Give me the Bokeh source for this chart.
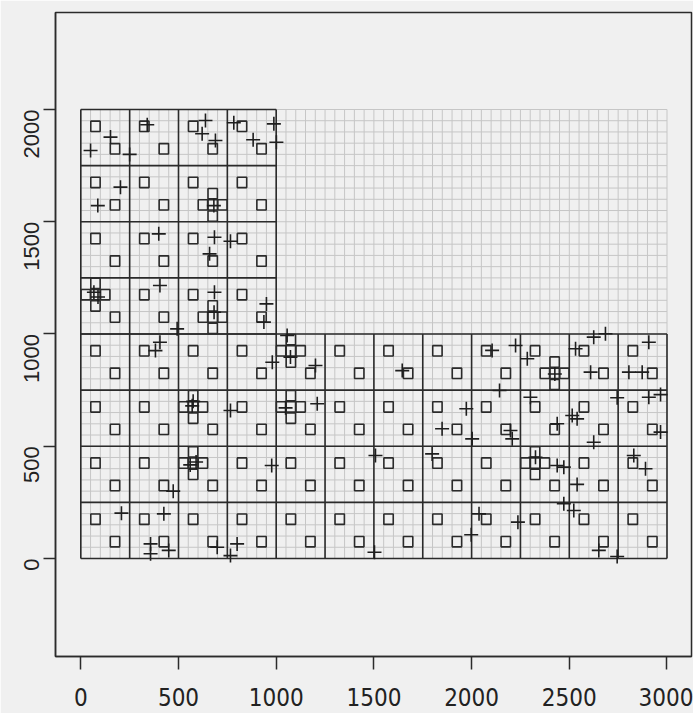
import math
import numpy as np
from bokeh.plotting import figure
from bokeh.models import Range1d, FixedTicker
from bokeh.embed import file_html
from bokeh.resources import INLINE

# ---- design of the study region ----
block_x0 = [0, 0]
block_x1 = [3000, 1000]
block_y0 = [0, 1000]
block_y1 = [1000, 2000]
cell_size = 250
unit_size = 50
region_w = 3000
region_h = 2000
sample_off_x = [75, 175]
sample_off_y = [175, 75]

# units whose neighbourhood was added (adaptive cluster)
expanded_x = [75, 675, 675, 575, 575, 1075, 1075, 2425, 2325]
expanded_y = [1175, 1575, 1075, 675, 425, 925, 675, 825, 425]

# ---- observed points ----
pts_x = [152, 50, 250, 340, 638, 621, 689, 783, 882, 988, 1001, 203, 87, 681,
         399, 684, 766, 659, 67, 88, 405, 684, 682, 950, 937, 493, 1056,
         405, 382, 980, 575, 570, 766, 560, 590, 977, 473, 208, 425, 357, 357,
         450, 698, 800, 766,
         1073, 1201, 1645, 1048, 1210, 1973, 1849, 2003, 1508, 1798, 2038,
         1998, 1503,
         2105, 2225, 2285, 2426, 2532, 2625, 2685, 2609, 2907, 2805, 2873,
         2143, 2301, 2199, 2208, 2438, 2515, 2540, 2625, 2745, 2907, 2967,
         2967, 2327, 2438, 2472, 2540, 2830, 2890, 2472, 2523, 2237, 2651, 2745]
pts_y = [1877, 1817, 1800, 1932, 1951, 1892, 1862, 1941, 1865, 1936, 1854, 1654,
         1572, 1572, 1446, 1431, 1413, 1357, 1186, 1165, 1216, 1186, 1097, 1134,
         1053, 1023, 993,
         963, 926, 874, 700, 680, 659, 417, 430, 414, 300, 202, 199, 65, 21,
         36, 50, 65, 13,
         897, 860, 837, 671, 689, 667, 578, 533, 459, 466, 199, 106, 28,
         927, 949, 890, 822, 934, 986, 1001, 830, 963, 830, 830,
         748, 718, 570, 533, 600, 637, 622, 518, 716, 718, 730,
         563, 451, 414, 407, 330, 459, 400, 244, 214, 162, 36, 9]

x_ticks = [0, 500, 1000, 1500, 2000, 2500, 3000]
y_ticks = [0, 500, 1000, 1500, 2000]

BG = "#f0f0f0"
INK = "#2b2b2b"

p = figure(frame_width=636, frame_height=644,
           x_range=Range1d(-129.5, 3125.4), y_range=Range1d(-436.5, 2432),
           output_backend="svg", toolbar_location=None,
           min_border_left=55, min_border_right=2, min_border_top=12,
           min_border_bottom=57)
p.background_fill_color = BG
p.border_fill_color = BG
p.outline_line_color = INK
p.outline_line_width = 1.5
p.grid.visible = False

# fine grid
fx = np.arange(0, region_w + 1, unit_size)
fy = np.arange(0, region_h + 1, unit_size)
p.segment(x0=fx, y0=np.zeros_like(fx), x1=fx, y1=np.full_like(fx, region_h),
          line_color="#c6c6c6", line_width=1)
p.segment(x0=np.zeros_like(fy), y0=fy, x1=np.full_like(fy, region_w), y1=fy,
          line_color="#c6c6c6", line_width=1)

# coarse grid and systematic sample
cx0, cy0, cx1, cy1 = [], [], [], []
sq_x, sq_y = [], []
for bx0, bx1, by0, by1 in zip(block_x0, block_x1, block_y0, block_y1):
    for gx in range(bx0, bx1 + 1, cell_size):
        cx0.append(gx); cy0.append(by0); cx1.append(gx); cy1.append(by1)
    for gy in range(by0, by1 + 1, cell_size):
        cx0.append(bx0); cy0.append(gy); cx1.append(bx1); cy1.append(gy)
    for gx in range(bx0, bx1, cell_size):
        for gy in range(by0, by1, cell_size):
            for ox, oy in zip(sample_off_x, sample_off_y):
                sq_x.append(gx + ox); sq_y.append(gy + oy)
p.segment(x0=cx0, y0=cy0, x1=cx1, y1=cy1, line_color=INK, line_width=1.6)

for ex, ey in zip(expanded_x, expanded_y):
    for dx, dy in [(-unit_size, 0), (unit_size, 0), (0, -unit_size), (0, unit_size)]:
        sq_x.append(ex + dx); sq_y.append(ey + dy)

p.rect(x=sq_x, y=sq_y, width=48, height=46, fill_color=None,
       line_color=INK, line_width=1.6)

p.scatter(x=pts_x, y=pts_y, marker="cross", size=14, line_color="#1e1e1e",
          line_width=1.6)

# axes
for ax in (p.xaxis, p.yaxis):
    ax.axis_line_color = INK
    ax.axis_line_width = 1.5
    ax.major_tick_line_color = INK
    ax.major_tick_line_width = 1.5
    ax.major_tick_in = 0
    ax.minor_tick_line_color = None
    ax.major_label_text_color = "#222222"

p.xaxis.ticker = FixedTicker(ticks=x_ticks)
p.yaxis.ticker = FixedTicker(ticks=y_ticks)
p.xaxis.major_tick_out = 13
p.yaxis.major_tick_out = 12
p.xaxis.major_label_standoff = 18
p.yaxis.major_label_standoff = 12
p.xaxis.major_label_text_font = "'Liberation Sans Narrow', 'DejaVu Sans Condensed', 'Liberation Sans', sans-serif"
p.xaxis.major_label_text_font_size = "24px"
p.yaxis.major_label_text_font = "'Liberation Sans', Arial, sans-serif"
p.yaxis.major_label_text_font_size = "22px"
p.yaxis.major_label_orientation = math.pi / 2

open("out.html", "w").write(file_html(p, INLINE))
